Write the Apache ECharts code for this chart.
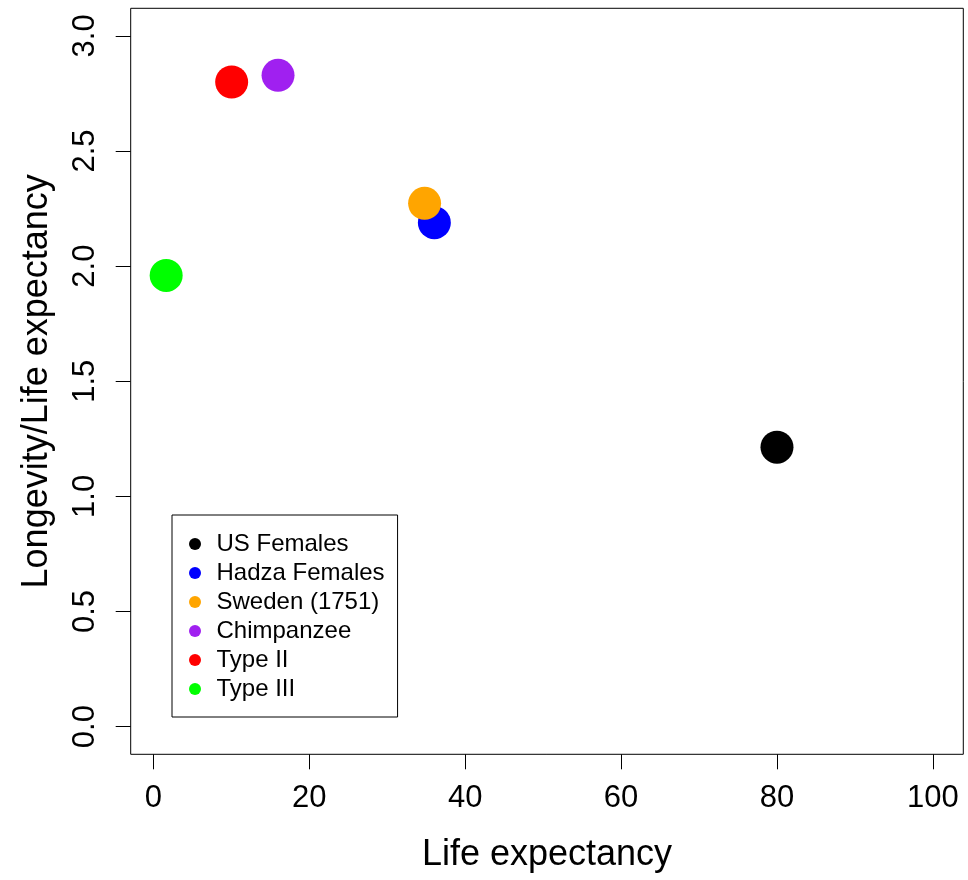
<!DOCTYPE html>
<html>
<head>
<meta charset="utf-8">
<script src="https://cdn.jsdelivr.net/npm/echarts@6/dist/echarts.min.js"></script>
<style>
  html, body { margin: 0; padding: 0; background: #fff; }
  #main { width: 968px; height: 880px; }
</style>
</head>
<body>
<div id="main"></div>
<script>
// groups, drawn in this order (orange sits on top of blue)
const groupNames = ['US Females', 'Hadza Females', 'Sweden (1751)', 'Chimpanzee', 'Type II', 'Type III'];
const lifeExpectancy = [80.0, 36.05, 34.8, 16.0, 10.05, 1.65];
const longevityRatio = [1.214, 2.189, 2.273, 2.829, 2.80, 1.96];
const groupColors = ['#000000', '#0000ff', '#ffa500', '#a020f0', '#ff0000', '#00ff00'];

const xTicks = [0, 20, 40, 60, 80, 100];
const yTicks = [0, 0.5, 1.0, 1.5, 2.0, 2.5, 3.0];

var myChart = echarts.init(document.getElementById('main'));

const baseFont = 'Liberation Sans, Arial, sans-serif';

const series = groupNames.map(function (name, i) {
  return {
    name: name,
    type: 'scatter',
    symbol: 'circle',
    symbolSize: 33,
    itemStyle: { color: groupColors[i], opacity: 1 },
    emphasis: { disabled: true },
    data: [[lifeExpectancy[i], longevityRatio[i]]]
  };
});

const option = {
  animation: false,
  backgroundColor: '#ffffff',
  textStyle: { fontFamily: baseFont },
  grid: {
    left: 130.7,
    right: 4.7,
    top: 8.3,
    bottom: 125.7,
    show: true,
    borderColor: '#000',
    borderWidth: 1,
    backgroundColor: 'transparent'
  },
  legend: {
    data: groupNames,
    orient: 'vertical',
    left: 172,
    top: 515,
    icon: 'circle',
    itemWidth: 33,
    itemHeight: 12,
    itemGap: 5,
    padding: [17, 13, 16, 17],
    borderColor: '#000',
    borderWidth: 1,
    selectedMode: false,
    textStyle: { fontFamily: baseFont, fontSize: 24, color: '#000', lineHeight: 24 }
  },
  xAxis: {
    type: 'value',
    min: -2.9,
    max: 103.9,
    name: 'Life expectancy',
    nameLocation: 'middle',
    nameGap: 83,
    nameTextStyle: { fontFamily: baseFont, fontSize: 36, color: '#000' },
    splitLine: { show: false },
    axisLine: { show: false, onZero: false },
    axisTick: {
      show: true,
      length: 15,
      customValues: xTicks,
      lineStyle: { color: '#000', width: 1 }
    },
    axisLabel: {
      customValues: xTicks,
      margin: 29,
      fontFamily: baseFont,
      fontSize: 31,
      color: '#000'
    }
  },
  yAxis: {
    type: 'value',
    min: -0.12,
    max: 3.12,
    name: 'Longevity/Life expectancy',
    nameLocation: 'middle',
    nameGap: 76,
    nameTextStyle: { fontFamily: baseFont, fontSize: 36, color: '#000' },
    splitLine: { show: false },
    axisLine: { show: false, onZero: false },
    axisTick: {
      show: true,
      length: 15,
      customValues: yTicks,
      lineStyle: { color: '#000', width: 1 }
    },
    axisLabel: {
      customValues: yTicks,
      rotate: 90,
      margin: 30,
      fontFamily: baseFont,
      fontSize: 31,
      color: '#000',
      formatter: function (v) { return v.toFixed(1); }
    }
  },
  series: series
};

myChart.setOption(option, true);
</script>
</body>
</html>
